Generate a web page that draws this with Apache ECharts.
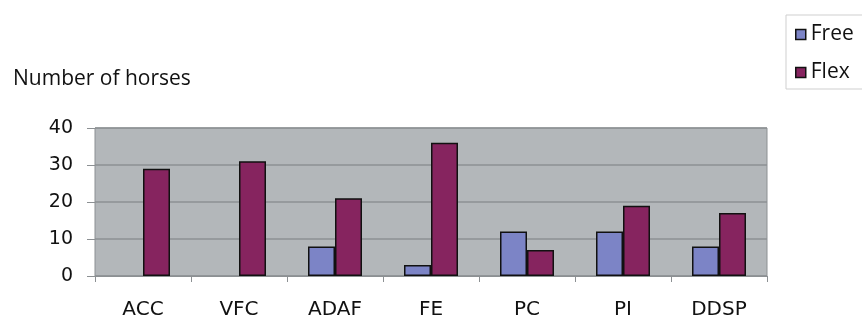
<!DOCTYPE html>
<html><head><meta charset="utf-8">
<script src="https://cdn.jsdelivr.net/npm/echarts@6/dist/echarts.min.js"></script>
<style>html,body{margin:0;padding:0;background:#fff}#c{width:862px;height:320px}</style>
</head><body><div id="c"></div>
<script>
const categories = ['ACC','VFC','ADAF','FE','PC','PI','DDSP'];
const freeValues = [null,null,8,3,12,12,8];
const flexValues = [29,31,21,36,7,19,17];
const yTicks = [0,10,20,30,40];

const chart = echarts.init(document.getElementById('c'));
chart.setOption({
  animation:false,
  textStyle:{fontFamily:'DejaVu Sans'},
  title:{text:'Number of horses',left:8,top:64,textStyle:{fontFamily:'Open Sans',fontSize:21,fontWeight:'normal',color:'#111'}},
  legend:{orient:'vertical',left:786,top:15,padding:[9,20,6,9],itemGap:17,itemWidth:10,itemHeight:10,icon:'rect',
    borderColor:'#cfcfcf',borderWidth:1,
    itemStyle:{borderColor:'#111',borderWidth:1.5},
    textStyle:{fontFamily:'Open Sans',fontSize:21,color:'#111',padding:[0,0,0,0]},
    data:['Free','Flex']},
  grid:{left:95,right:95,top:128,bottom:42,show:true,backgroundColor:'#b3b7ba',borderColor:'#8c9093',borderWidth:1},
  xAxis:{type:'category',data:categories,
    axisLine:{show:true,lineStyle:{color:'#8c9093'}},
    axisTick:{show:true,length:6,lineStyle:{color:'#8c9093'}},
    axisLabel:{fontSize:20,color:'#111',margin:24}},
  yAxis:{type:'value',min:yTicks[0],max:yTicks[yTicks.length-1],interval:10,
    axisLine:{show:false},
    axisTick:{show:true,length:8,lineStyle:{color:'#8c9093'}},
    splitLine:{lineStyle:{color:'#8c9093',width:1.5}},
    axisLabel:{fontSize:19,color:'#111',margin:22}},
  series:[
    {name:'Free',type:'bar',data:freeValues,barWidth:27,barGap:'0%',
      itemStyle:{color:'#7c84c6',borderColor:'#111',borderWidth:1.5}},
    {name:'Flex',type:'bar',data:flexValues,barWidth:27,
      itemStyle:{color:'#86245f',borderColor:'#111',borderWidth:1.5}}
  ]
});
</script></body></html>
